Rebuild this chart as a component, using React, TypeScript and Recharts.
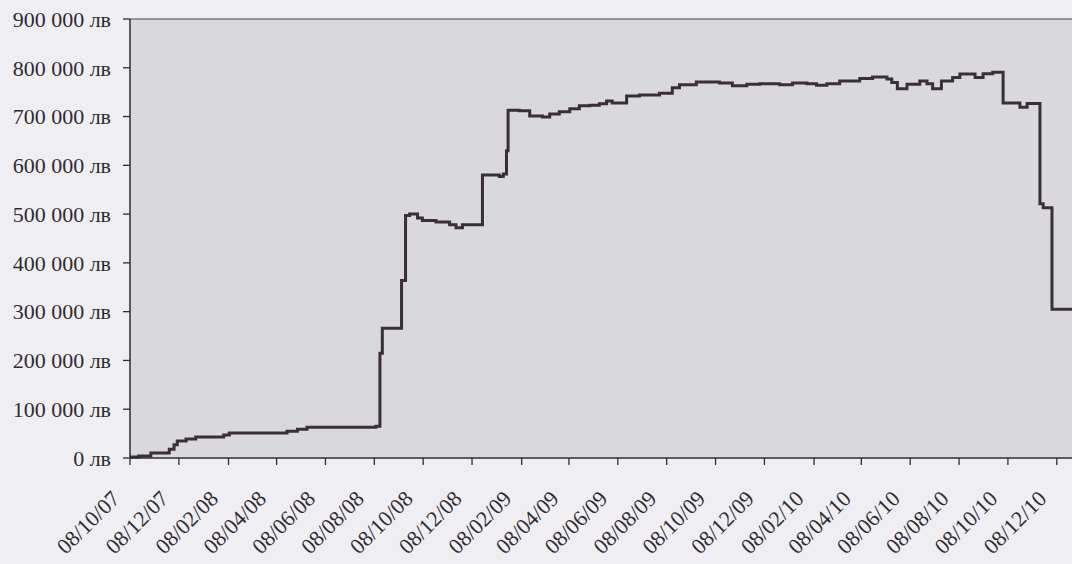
import { CartesianGrid, Line, LineChart, ReferenceLine, XAxis, YAxis } from 'recharts';

// balance by date (step changes)
const dates = [
  '2007-10-08', '2007-10-19', '2007-11-03', '2007-11-26', '2007-12-02', '2007-12-06', '2007-12-17', '2007-12-29',
  '2008-02-02', '2008-02-09', '2008-04-21', '2008-05-04', '2008-05-16', '2008-08-10', '2008-08-15', '2008-08-18',
  '2008-09-11', '2008-09-16', '2008-09-21', '2008-10-01', '2008-10-07', '2008-10-24', '2008-11-10', '2008-11-18',
  '2008-11-26', '2008-12-21', '2009-01-11', '2009-01-16', '2009-01-20', '2009-01-22', '2009-02-05', '2009-02-18',
  '2009-03-06', '2009-03-15', '2009-03-27', '2009-04-09', '2009-04-21', '2009-05-04', '2009-05-16', '2009-05-25',
  '2009-06-01', '2009-06-19', '2009-07-05', '2009-07-30', '2009-08-15', '2009-08-24', '2009-09-14', '2009-10-13',
  '2009-10-29', '2009-11-16', '2009-12-02', '2009-12-27', '2010-01-12', '2010-01-30', '2010-02-11', '2010-02-24',
  '2010-03-12', '2010-04-06', '2010-04-22', '2010-05-10', '2010-05-16', '2010-05-23', '2010-06-04', '2010-06-20',
  '2010-06-29', '2010-07-06', '2010-07-17', '2010-07-31', '2010-08-09', '2010-08-28', '2010-09-07', '2010-09-19',
  '2010-10-02', '2010-10-23', '2010-11-01', '2010-11-17', '2010-11-21', '2010-12-02', '2010-12-27',
];

const balance = [
  2000, 4000, 10000, 18000, 27000, 35000, 39000, 43000,
  47000, 51000, 55000, 59000, 63000, 65000, 215000, 266000,
  364000, 497000, 500000, 492000, 487000, 484000, 478000, 472000,
  478000, 580000, 577000, 582000, 630000, 713000, 712000, 701000,
  699000, 705000, 710000, 716000, 722000, 723000, 726000, 732000,
  728000, 742000, 744000, 748000, 759000, 765000, 771000, 769000,
  763000, 766000, 767000, 765000, 769000, 767000, 764000, 767000,
  773000, 778000, 781000, 777000, 770000, 757000, 766000, 773000,
  767000, 757000, 773000, 780000, 787000, 780000, 788000, 791000,
  728000, 719000, 727000, 521000, 513000, 305000, 306000,
];

const tickLabels = [
  '08/10/07', '08/12/07', '08/02/08', '08/04/08', '08/06/08', '08/08/08', '08/10/08',
  '08/12/08', '08/02/09', '08/04/09', '08/06/09', '08/08/09', '08/10/09', '08/12/09',
  '08/02/10', '08/04/10', '08/06/10', '08/08/10', '08/10/10', '08/12/10',
];

const yTicks = [0, 100000, 200000, 300000, 400000, 500000, 600000, 700000, 800000, 900000];

const DAY = 86400000;
const start = Date.UTC(2007, 9, 8);
const toDay = (iso) => {
  const [y, m, d] = iso.split('-').map(Number);
  return (Date.UTC(y, m - 1, d) - start) / DAY;
};
const labelToDay = (s) => {
  const [d, m, y] = s.split('/').map(Number);
  return (Date.UTC(2000 + y, m - 1, d) - start) / DAY;
};

const data = dates.map((d, i) => ({ day: toDay(d), value: balance[i] }));
const xTicks = tickLabels.map(labelToDay);
const xEnd = toDay('2010-12-27');

const fmtMoney = (v) => String(v).replace(/\B(?=(\d{3})+(?!\d))/g, ' ') + ' лв';

const font = '"Liberation Serif", "Times New Roman", serif';

const DateTick = ({ x, y, payload }) => {
  const i = xTicks.indexOf(payload.value);
  const ax = x - 9;
  const ay = y + 33;
  return (
    <text
      x={ax}
      y={ay}
      transform={`rotate(-45 ${ax} ${ay})`}
      textAnchor="end"
      fontFamily={font}
      fontSize={22}
      fill="#2f2b33"
    >
      {tickLabels[i]}
    </text>
  );
};

export default function App() {
  return (
    <div style={{ position: 'absolute', left: 0, top: 0, width: 1072, height: 564, background: '#efeff3', overflow: 'hidden' }}>
      <LineChart width={1072} height={564} data={data} margin={{ top: 19, right: 0, bottom: 0, left: 0 }}>
        <CartesianGrid fill="#d8d8dd" stroke="none" horizontal={false} vertical={false} />
        <XAxis
          type="number"
          dataKey="day"
          domain={[0, xEnd]}
          ticks={xTicks}
          interval={0}
          height={106}
          tickSize={7}
          tickLine={{ stroke: '#2f2b33', strokeWidth: 1.3 }}
          axisLine={{ stroke: '#2f2b33', strokeWidth: 1.5 }}
          tick={<DateTick />}
          allowDataOverflow
        />
        <YAxis
          domain={[0, 900000]}
          ticks={yTicks}
          interval={0}
          width={130}
          tickSize={7}
          tickMargin={12}
          tickFormatter={fmtMoney}
          tickLine={{ stroke: '#2f2b33', strokeWidth: 1.3 }}
          axisLine={{ stroke: '#2f2b33', strokeWidth: 1.5 }}
          tick={{ fontFamily: font, fontSize: 22, fill: '#2f2b33' }}
        />
        <ReferenceLine y={900000} stroke="#4a4550" strokeWidth={1.2} />
        <Line
          type="stepAfter"
          dataKey="value"
          stroke="#3a2e3d"
          strokeWidth={3}
          dot={false}
          isAnimationActive={false}
        />
      </LineChart>
    </div>
  );
}
